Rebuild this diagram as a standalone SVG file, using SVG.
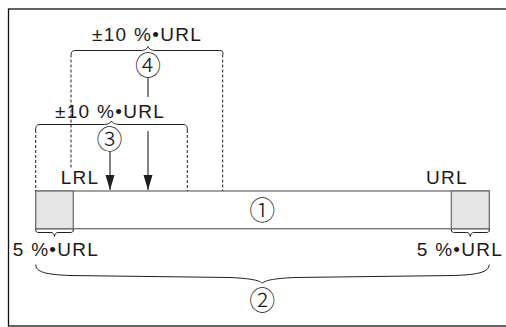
<svg xmlns="http://www.w3.org/2000/svg" width="506" height="327" viewBox="0 0 506 327">
<style>
.t{font-family:"Liberation Sans",Arial,sans-serif;font-size:19px;fill:#1a1a1a;letter-spacing:1.3px}
.c{font-family:"Noto Sans CJK JP","Noto Sans CJK SC",sans-serif;font-size:26px;font-weight:300;fill:#1a1a1a;text-anchor:middle}
.br{fill:none;stroke:#1e1e1e;stroke-width:1}
.da{fill:none;stroke:#1e1e1e;stroke-width:1;stroke-dasharray:3 2}
.ln{fill:none;stroke:#333;stroke-width:1.2}
.bar{fill:#fff;stroke:#707070;stroke-width:1.3}
.gr{fill:#e5e5e6;stroke:#707070;stroke-width:1.3}
</style>
<defs>
<marker id="ah" markerUnits="userSpaceOnUse" markerWidth="16" markerHeight="10" refX="15" refY="5" orient="auto" viewBox="0 0 16 10">
<path d="M0 0.5 L15 5 L0 9.5 Z" fill="#1e1e1e"/>
</marker>
</defs>
<rect x="8.5" y="9" width="510" height="317" fill="#fff" stroke="#111" stroke-width="1.3"/>
<g id="range-bar">
<rect class="bar" x="35.7" y="191" width="453.6" height="37.7"/>
<rect class="gr" x="35.7" y="191" width="37.6" height="37.7"/>
<rect class="gr" x="451.3" y="191" width="38" height="37.7"/>
<text class="c" x="262.3" y="219.5">①</text>
</g>
<g id="label-lrl"><text class="t" x="60.7" y="184">LRL</text></g>
<g id="label-url"><text class="t" x="426" y="184">URL</text></g>
<g id="margin-left">
<path class="br" d="M35.7 229 V230 C35.7 232 37 232.5 39 232.5 L51 232.5 C53 232.5 54.3 234 54.5 236.5 C54.7 234 56 232.5 58 232.5 L70 232.5 C72 232.5 73.3 232 73.3 230 V229"/>
<text class="t" x="12.7" y="256">5 %•URL</text>
</g>
<g id="margin-right">
<path class="br" d="M451.3 229 V230 C451.3 232 452.6 232.5 454.6 232.5 L466.8 232.5 C468.8 232.5 470.1 234 470.3 236.5 C470.5 234 471.8 232.5 473.8 232.5 L486 232.5 C488 232.5 489.3 232 489.3 230 V229"/>
<text class="t" x="416.7" y="256">5 %•URL</text>
</g>
<g id="total-range">
<path class="br" d="M35.7 264.5 C36 272 45 274.5 70 275.5 L230 277.5 C250 278.5 258 280 262.3 283 C266.6 280 274.6 278.5 294.6 277.5 L454.6 275.5 C479.6 274.5 488.6 272 489.3 264.5"/>
<text class="c" x="262.3" y="310">②</text>
</g>
<g id="deviation-3">
<path class="br" d="M35.7 130 C35.7 126 37 124.5 40 124.5 L103 124.5 C108 124.5 110.5 123 111.5 121 C112.5 123 115 124.5 120 124.5 L183 124.5 C186 124.5 187.3 126 187.3 130"/>
<text class="t" x="55" y="118">±10 %•URL</text>
<text class="c" x="109.5" y="149">③</text>
</g>
<g id="deviation-4">
<path class="br" d="M71.2 54.5 C71.2 51.5 72.5 50.5 75.5 50.5 L140 50.5 C145 50.5 147 49 148 46.5 C149 49 151 50.5 156 50.5 L219.5 50.5 C222.5 50.5 223 51.5 223 54.5"/>
<text class="t" x="92" y="41">±10 %•URL</text>
<text class="c" x="148" y="75">④</text>
</g>
<g id="connectors">
<line class="da" x1="71" y1="54.5" x2="71" y2="168"/>
<line class="da" x1="222.7" y1="54.5" x2="222.7" y2="191"/>
<line class="da" x1="35.7" y1="130" x2="35.7" y2="191"/>
<line class="da" x1="187.3" y1="130" x2="187.3" y2="191"/>
<line class="ln" x1="148" y1="77" x2="148" y2="97"/>
<line class="ln" x1="148" y1="131" x2="148" y2="190" marker-end="url(#ah)"/>
<line class="ln" x1="110" y1="151.5" x2="110" y2="190" marker-end="url(#ah)"/>
</g>
</svg>
